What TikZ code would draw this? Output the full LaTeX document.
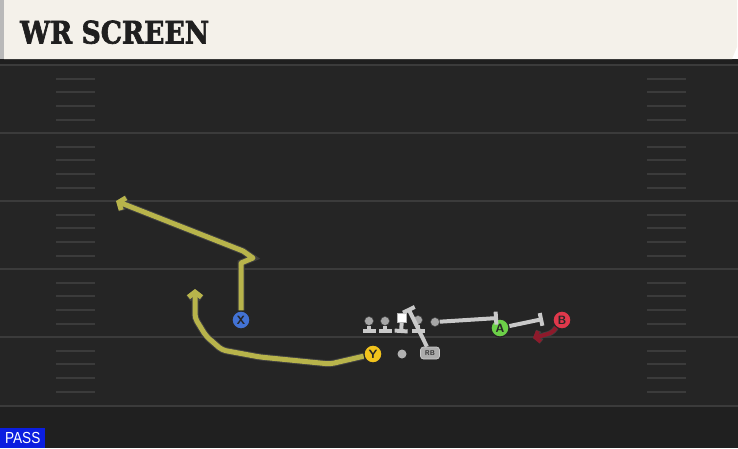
\documentclass[tikz,border=0pt]{standalone}
\usepackage{fontspec}
\setmainfont{Liberation Sans}
\newfontfamily\titlefont{DejaVu Serif Bold}[FakeBold=2.2]
\usetikzlibrary{arrows.meta}
\definecolor{fieldbg}{HTML}{252525}
\definecolor{fieldlow}{HTML}{202020}
\definecolor{yardline}{HTML}{3B3B3B}
\definecolor{cream}{HTML}{F4F1EA}
\definecolor{routeyel}{HTML}{B8B44B}
\definecolor{routered}{HTML}{8E1A2B}
\definecolor{blockgray}{HTML}{C9C9C9}
\definecolor{passblue}{HTML}{0B1EE0}
\definecolor{pX}{HTML}{4272D4}
\definecolor{pY}{HTML}{F2C31C}
\definecolor{pA}{HTML}{6CD048}
\definecolor{pB}{HTML}{E0384B}
\begin{document}
\begin{tikzpicture}[x=1pt,y=-1pt,
  yard/.style={draw=yardline, line width=2pt},
  hashmk/.style={draw=yardline, line width=1.5pt},
  player/.style={circle, minimum size=18pt, inner sep=0pt, draw=black!85, line width=1.2pt,
    font=\sffamily\bfseries\fontsize{12}{12}\selectfont, text=black!85},
  lineman/.style={circle, minimum size=9pt, inner sep=0pt, fill=gray!70, draw=gray!50!black, line width=0.5pt},
  blk/.style={draw=blockgray, line width=4pt, -{Bar[width=13pt]}},
  route/.style={draw=routeyel, line width=5pt, line join=round,
    preaction={draw=black!75, line width=7pt}},
  barb/.style={-{Straight Barb[length=5pt,width=13pt]}}
]
\useasboundingbox (0,0) rectangle (738,448);
% field
\fill[fieldbg] (0,59) rectangle (738,448);
\fill[fieldlow] (0,406) rectangle (738,448);
\fill[black!88] (0,59) rectangle (738,64);
\foreach \y in {65,133,201,269,337,406} {\draw[yard] (0,\y) -- (738,\y);}
\foreach \y in {65,133,201,269,337} {
  \foreach \o in {14,27,41,55} {
    \draw[hashmk] (56,\y+\o) -- (95,\y+\o);
    \draw[hashmk] (647,\y+\o) -- (686,\y+\o);
  }
}
% header
\fill[cream] (4,0) -- (737,0) -- (737,47) -- (732,59) -- (4,59) -- cycle;
\fill[gray!55] (0,0) rectangle (4,59);
\node[anchor=base west, inner sep=0pt, text=black!88,
  font=\titlefont\fontsize{31}{31}\selectfont] (title) at (20,43.5) {\scalebox{0.86}[1]{WR SCREEN}};
% players
\node[player, fill=pX] (X) at (241,320) {X};
\node[player, fill=pY] (Y) at (373,354) {Y};
\node[player, fill=pA] (A) at (500,328) {A};
\node[player, fill=pB] (B) at (562,320) {B};
\node[circle, fill=gray!60, minimum size=9pt, inner sep=0pt] (QB) at (402,354) {};
\node[rounded corners=3pt, fill=gray!65, draw=gray!40, line width=0.7pt, minimum width=19pt, minimum height=12pt,
  inner sep=0pt, font=\sffamily\bfseries\fontsize{7}{7}\selectfont, text=black!80] (RB) at (430,353) {RB};
\node[lineman] (L1) at (369,321) {};
\node[lineman] (L2) at (385,321) {};
\node[rectangle, fill=white, draw=gray!60, line width=0.6pt, minimum size=9pt, inner sep=0pt] (C) at (402,318) {};
\node[lineman] (L4) at (418,320) {};
\node[lineman] (T) at (435,322) {};
% block ends
\coordinate (L1e) at (369,333);
\coordinate (L2e) at (385,333);
\coordinate (Ce) at (401,333);
\coordinate (L4e) at (418,333);
\coordinate (RBe) at (408,308);
\coordinate (Te) at (498,318);
\coordinate (Ae) at (543,319);
\draw[blk] (L1) -- (L1e);
\draw[blk] (L2) -- (L2e);
\draw[blk] (C) -- (Ce);
\draw[blk] (L4) -- (L4e);
\draw[blk] (RB) -- (RBe);
\draw[blk] (T) -- (Te);
\draw[blk] (A) -- (Ae);
% routes
\coordinate (Xend) at (116,201);
\coordinate (Yend) at (195,289);
\coordinate (Bend) at (533,338);
\draw[route, barb] (X) -- (241,263) -- (253,258) -- (243,251) -- (Xend);
\draw[route, barb, rounded corners=4pt] (Y) -- (330,364) -- (260,357) -- (222,350) -- (206,336) -- (195,318) -- (Yend);
\draw[draw=routered, line width=4pt, -{Straight Barb[length=4pt,width=11pt]},
  preaction={draw=black!75, line width=5.5pt}] (B) .. controls (552,333) .. (Bend);
% pass label
\node[fill=passblue, text=white, anchor=south west, minimum width=45pt, minimum height=20pt, inner sep=0pt,
  font=\fontsize{16}{16}\selectfont] (pass) at (0,448) {\scalebox{0.85}[1]{PASS}};
\end{tikzpicture}
\end{document}
